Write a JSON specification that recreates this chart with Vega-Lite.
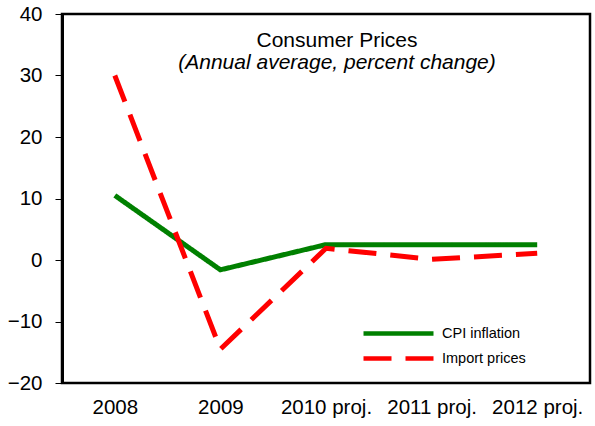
{
  "$schema": "https://vega.github.io/schema/vega-lite/v6.json",
  "width": 528,
  "height": 369,
  "autosize": "none",
  "padding": {"left": 62, "top": 14, "right": 5, "bottom": 43},
  "config": {
    "font": "Liberation Sans",
    "view": {"stroke": "black", "strokeWidth": 2.5},
    "axis": {"grid": false, "labelFont": "Liberation Sans", "labelColor": "black", "labelFontSize": 20.5}
  },
  "title": {
    "text": "Consumer Prices",
    "subtitle": "(Annual average, percent change)",
    "fontSize": 21,
    "fontWeight": "normal",
    "subtitleFontSize": 21,
    "subtitleFontStyle": "italic",
    "subtitleColor": "black",
    "subtitlePadding": 1,
    "color": "black",
    "anchor": "middle",
    "dx": 11,
    "offset": -69
  },
  "data": {
    "values": [
      {"year": "2008", "series": "CPI inflation", "value": 10.5},
      {"year": "2009", "series": "CPI inflation", "value": -1.6},
      {"year": "2010 proj.", "series": "CPI inflation", "value": 2.5},
      {"year": "2011 proj.", "series": "CPI inflation", "value": 2.5},
      {"year": "2012 proj.", "series": "CPI inflation", "value": 2.5},
      {"year": "2008", "series": "Import prices", "value": 30},
      {"year": "2009", "series": "Import prices", "value": -14.5},
      {"year": "2010 proj.", "series": "Import prices", "value": 1.9},
      {"year": "2011 proj.", "series": "Import prices", "value": 0.1},
      {"year": "2012 proj.", "series": "Import prices", "value": 1.1}
    ]
  },
  "mark": {"type": "line", "strokeWidth": 5},
  "encoding": {
    "x": {
      "field": "year", "type": "ordinal", "title": null,
      "scale": {"type": "point", "padding": 0.5},
      "axis": {"labelAngle": 0, "ticks": false, "domain": false, "labelPadding": 14}
    },
    "y": {
      "field": "value", "type": "quantitative", "title": null,
      "scale": {"domain": [-20, 40], "nice": false},
      "axis": {"values": [-20, -10, 0, 10, 20, 30, 40], "domainColor": "black", "domainWidth": 3, "tickColor": "black", "tickSize": 7, "tickWidth": 1, "labelPadding": 13}
    },
    "color": {
      "field": "series", "type": "nominal",
      "scale": {"domain": ["CPI inflation", "Import prices"], "range": ["#008000", "#ff0000"]},
      "legend": {
        "title": null, "orient": "none", "legendX": 299, "legendY": 312,
        "symbolType": "M-1,0H13", "symbolSize": 100, "symbolStrokeWidth": 4.5,
        "symbolFillColor": "transparent",
        "labelFontSize": 14.5, "labelColor": "black", "rowPadding": 6, "labelOffset": 66
      }
    },
    "strokeDash": {
      "field": "series", "type": "nominal",
      "scale": {"domain": ["CPI inflation", "Import prices"], "range": [[1, 0], [28, 14]]},
      "legend": null
    }
  }
}
